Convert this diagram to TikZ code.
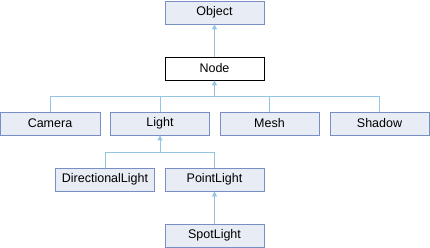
\documentclass[tikz,border=0pt]{standalone}
\usepackage{fontspec}
\setmainfont{Liberation Sans}
\usetikzlibrary{arrows.meta}
\definecolor{boxfill}{HTML}{E8ECF5}
\definecolor{boxline}{HTML}{7A8EC6}
\definecolor{edgeblue}{HTML}{94C4E4}
\begin{document}
\begin{tikzpicture}[x=1pt,y=-1pt,
    cls/.style={draw=boxline,fill=boxfill,line width=0.9pt,minimum width=99pt,minimum height=23pt,inner sep=0pt,font=\fontsize{12.5}{14}\selectfont},
    edgeline/.style={draw=edgeblue,line width=0.9pt},
    inherit/.style={edgeline,-{Triangle[width=5pt,length=5pt]}}]
    \useasboundingbox (0,0) rectangle (430,248);

    \node[cls] (object) at (214.5,12.5) {Object};
    \node[cls,draw=black,fill=white] (node) at (214.5,68.5) {Node};

    \node[cls,minimum width=100pt] (camera) at (50,123.5) {Camera};
    \node[cls] (light) at (160,123.5) {Light};
    \node[cls] (mesh) at (269.5,123.5) {Mesh};
    \node[cls] (shadow) at (379.5,123.5) {Shadow};

    \node[cls] (dirlight) at (105,179.5) {DirectionalLight};
    \node[cls] (pointlight) at (214.5,179.5) {PointLight};
    \node[cls] (spotlight) at (214.5,235.5) {SpotLight};

    % inheritance lines
    \draw[inherit] (node) -- (object);

    \coordinate (nodebus) at (214.5,96);
    \draw[inherit] (nodebus) -- (node);
    \foreach \c in {camera,light,mesh,shadow}
        \draw[edgeline] (\c.north) |- (nodebus);

    \coordinate (lightbus) at (160,152);
    \draw[inherit] (lightbus) -- (light);
    \foreach \c in {dirlight,pointlight}
        \draw[edgeline] (\c.north) |- (lightbus);

    \draw[inherit] (spotlight) -- (pointlight);
\end{tikzpicture}
\end{document}
